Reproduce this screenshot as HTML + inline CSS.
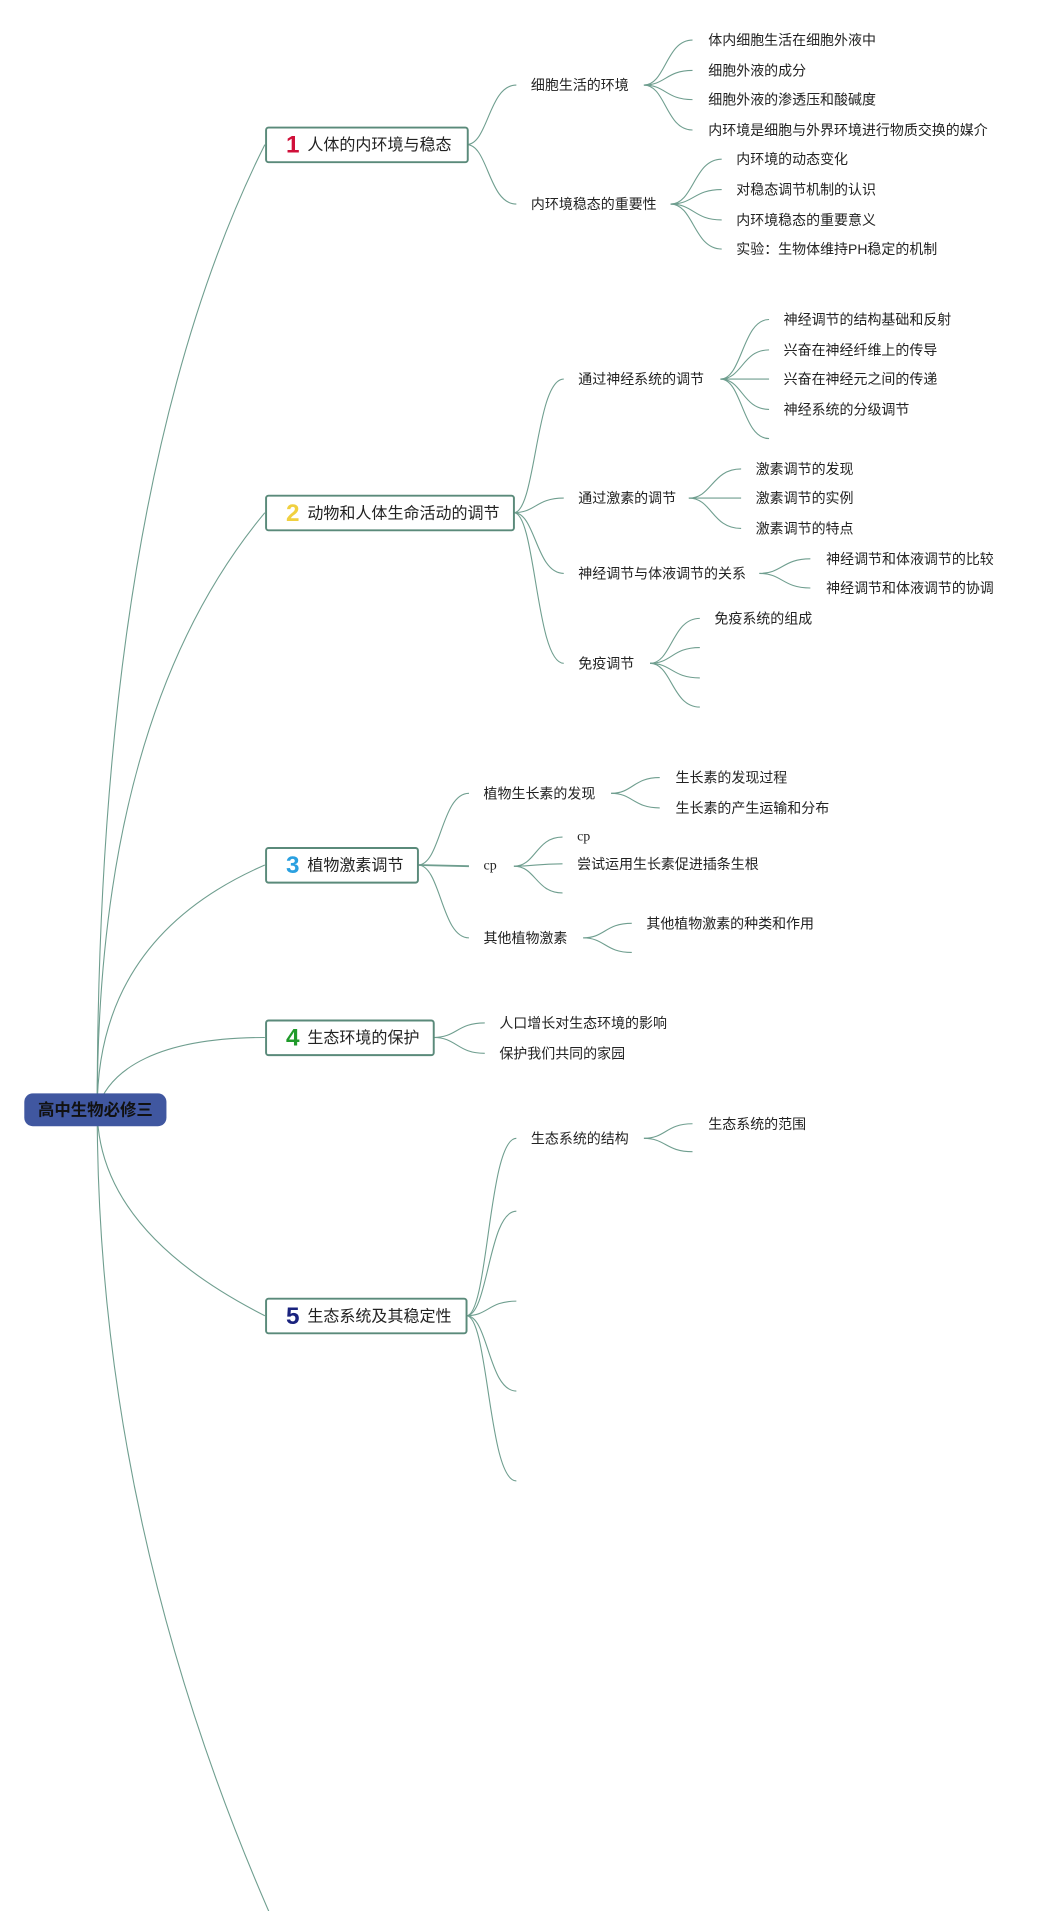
<!DOCTYPE html>
<html><head><meta charset="utf-8">
<style>
html,body{margin:0;padding:0;background:#fff;}
svg{display:block;}
text{font-family:"Liberation Sans","Noto Sans CJK SC",sans-serif;fill:#222;}
.c{font-size:11.5px;dominant-baseline:central;}
.n{font-size:13.2px;dominant-baseline:central;}
.num{font-size:20px;font-weight:bold;dominant-baseline:central;text-anchor:middle;}
path{fill:none;stroke:#6f9e8f;stroke-width:0.9;}
rect.b{fill:#fff;stroke:#5a8a7a;stroke-width:1.6;}
</style></head>
<body>
<svg width="1057" height="1911" viewBox="0 0 870 1573" preserveAspectRatio="none" xmlns="http://www.w3.org/2000/svg">
<!-- root connectors -->
<path d="M80 913 Q80 395 218 119"/>
<path d="M80 913 Q80 588 218 422"/>
<path d="M80 913 Q80 772 218 712"/>
<path d="M80 913 C90 880 130 854 218 854"/>
<path d="M80 913 Q80 1013 218 1083"/>
<path d="M80 913 Q80 1250 222 1575"/>

<!-- node1 -->
<path d="M384 119 C402 119 402 70 425 70"/>
<path d="M384 119 C402 119 402 168 425 168"/>
<path d="M530 70 C548 70 548 33 570 33"/>
<path d="M530 70 C548 70 548 58 570 58"/>
<path d="M530 70 C548 70 548 82 570 82"/>
<path d="M530 70 C548 70 548 107 570 107"/>
<path d="M552 168 C571 168 571 131 594 131"/>
<path d="M552 168 C571 168 571 156 594 156"/>
<path d="M552 168 C571 168 571 181 594 181"/>
<path d="M552 168 C571 168 571 205 594 205"/>

<!-- node2 -->
<path d="M423 422 C441 422 441 312 464 312"/>
<path d="M423 422 C441 422 441 410 464 410"/>
<path d="M423 422 C441 422 441 472 464 472"/>
<path d="M423 422 C441 422 441 546 464 546"/>
<path d="M593 312 C611 312 611 263 633 263"/>
<path d="M593 312 C611 312 611 288 633 288"/>
<path d="M593 312 C611 312 611 312 633 312"/>
<path d="M593 312 C611 312 611 337 633 337"/>
<path d="M593 312 C611 312 611 361 633 361"/>
<path d="M567 410 C586 410 586 386 610 386"/>
<path d="M567 410 C586 410 586 410 610 410"/>
<path d="M567 410 C586 410 586 435 610 435"/>
<path d="M625 472 C644 472 644 460 667 460"/>
<path d="M625 472 C644 472 644 484 667 484"/>
<path d="M535 546 C553 546 553 509 576 509"/>
<path d="M535 546 C553 546 553 533 576 533"/>
<path d="M535 546 C553 546 553 558 576 558"/>
<path d="M535 546 C553 546 553 582 576 582"/>

<!-- node3 -->
<path d="M344 712 C363 712 363 653 386 653"/>
<path d="M344 712 L386 713" style="stroke-width:1.5"/>
<path d="M344 712 C363 712 363 772 386 772"/>
<path d="M503 653 C521 653 521 640 543 640"/>
<path d="M503 653 C521 653 521 665 543 665"/>
<path d="M423 713 C441 713 441 689 463 689"/>
<path d="M423 713 C441 713 441 711 463 711"/>
<path d="M423 713 C441 713 441 735 463 735"/>
<path d="M480 772 C498 772 498 760 520 760"/>
<path d="M480 772 C498 772 498 784 520 784"/>

<!-- node4 -->
<path d="M357 854 C376 854 376 842 399 842"/>
<path d="M357 854 C376 854 376 867 399 867"/>

<!-- node5 -->
<path d="M384 1083 C402 1083 402 937 425 937"/>
<path d="M384 1083 C402 1083 402 997 425 997"/>
<path d="M384 1083 C402 1083 402 1071 425 1071"/>
<path d="M384 1083 C402 1083 402 1145 425 1145"/>
<path d="M384 1083 C402 1083 402 1219 425 1219"/>
<path d="M530 937 C548 937 548 925 570 925"/>
<path d="M530 937 C548 937 548 948 570 948"/>

<!-- root -->
<rect x="20" y="900" width="117" height="27" rx="7" fill="#4057a0"/>
<text x="78.5" y="914" style="font-size:13.5px;font-weight:bold;dominant-baseline:central;text-anchor:middle;fill:#111">高中生物必修三</text>

<!-- main nodes -->
<rect class="b" x="219" y="105" width="166" height="28.5" rx="2"/>
<text class="num" x="241" y="119.5" style="fill:#d0103a">1</text>
<text class="n" x="253" y="119.5">人体的内环境与稳态</text>

<rect class="b" x="219" y="408" width="204" height="28.5" rx="2"/>
<text class="num" x="241" y="422.5" style="fill:#f0d040">2</text>
<text class="n" x="253" y="422.5">动物和人体生命活动的调节</text>

<rect class="b" x="219" y="698" width="125" height="28.5" rx="2"/>
<text class="num" x="241" y="712.5" style="fill:#2aa0e0">3</text>
<text class="n" x="253" y="712.5">植物激素调节</text>

<rect class="b" x="219" y="840" width="138" height="28.5" rx="2"/>
<text class="num" x="241" y="854.5" style="fill:#1f9a2a">4</text>
<text class="n" x="253" y="854.5">生态环境的保护</text>

<rect class="b" x="219" y="1069" width="165" height="28.5" rx="2"/>
<text class="num" x="241" y="1083.5" style="fill:#1a237e">5</text>
<text class="n" x="253" y="1083.5">生态系统及其稳定性</text>

<!-- level texts -->
<text class="c" x="437" y="70">细胞生活的环境</text>
<text class="c" x="583" y="33">体内细胞生活在细胞外液中</text>
<text class="c" x="583" y="58">细胞外液的成分</text>
<text class="c" x="583" y="82">细胞外液的渗透压和酸碱度</text>
<text class="c" x="583" y="107">内环境是细胞与外界环境进行物质交换的媒介</text>
<text class="c" x="437" y="168">内环境稳态的重要性</text>
<text class="c" x="606" y="131">内环境的动态变化</text>
<text class="c" x="606" y="156">对稳态调节机制的认识</text>
<text class="c" x="606" y="181">内环境稳态的重要意义</text>
<text class="c" x="606" y="205">实验：生物体维持PH稳定的机制</text>

<text class="c" x="476" y="312">通过神经系统的调节</text>
<text class="c" x="645" y="263">神经调节的结构基础和反射</text>
<text class="c" x="645" y="288">兴奋在神经纤维上的传导</text>
<text class="c" x="645" y="312">兴奋在神经元之间的传递</text>
<text class="c" x="645" y="337">神经系统的分级调节</text>
<text class="c" x="476" y="410">通过激素的调节</text>
<text class="c" x="622" y="386">激素调节的发现</text>
<text class="c" x="622" y="410">激素调节的实例</text>
<text class="c" x="622" y="435">激素调节的特点</text>
<text class="c" x="476" y="472">神经调节与体液调节的关系</text>
<text class="c" x="680" y="460">神经调节和体液调节的比较</text>
<text class="c" x="680" y="484">神经调节和体液调节的协调</text>
<text class="c" x="476" y="546">免疫调节</text>
<text class="c" x="588" y="509">免疫系统的组成</text>

<text class="c" x="398" y="653">植物生长素的发现</text>
<text class="c" x="556" y="640">生长素的发现过程</text>
<text class="c" x="556" y="665">生长素的产生运输和分布</text>
<text class="c" x="398" y="713" style="font-family:'Liberation Serif',serif">cp</text>
<text class="c" x="475" y="689" style="font-family:'Liberation Serif',serif">cp</text>
<text class="c" x="475" y="711">尝试运用生长素促进插条生根</text>
<text class="c" x="398" y="772">其他植物激素</text>
<text class="c" x="532" y="760">其他植物激素的种类和作用</text>

<text class="c" x="411" y="842">人口增长对生态环境的影响</text>
<text class="c" x="411" y="867">保护我们共同的家园</text>

<text class="c" x="437" y="937">生态系统的结构</text>
<text class="c" x="583" y="925">生态系统的范围</text>
</svg>
</body></html>
